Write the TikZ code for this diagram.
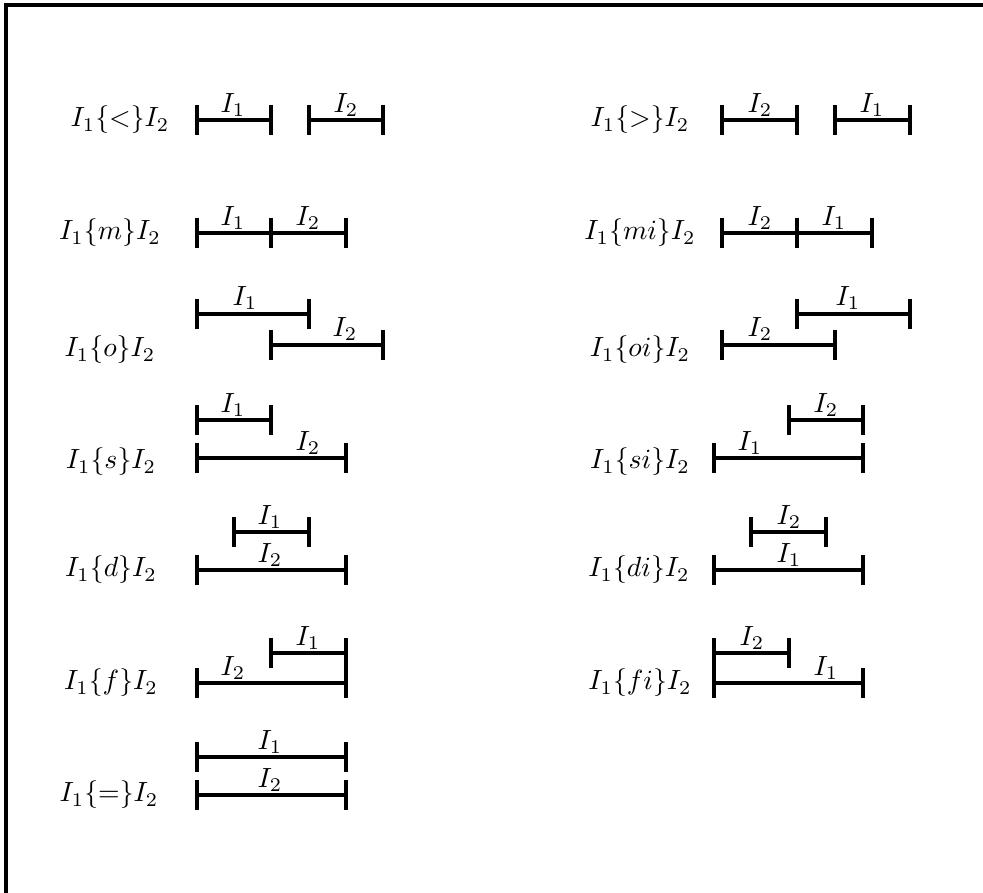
\documentclass[tikz,border=0pt]{standalone}
\usepackage{amsmath,amssymb}

\begin{document}
\begin{tikzpicture}[x=0.36pt, y=-0.36pt, every node/.style={inner sep=0pt},
	ival/.style={line width=1.1pt}, endbar/.style={line width=1.3pt}]
	\useasboundingbox (0,0) rectangle (983,893);
	\draw[line width=1.4pt] (6,893) -- (6,5) -- (983,5);
	% relation names
	\foreach \n/\x/\y/\r in {lt/120/120/<, m/110/233/m, o/110/350/o, s/111/462/s,
		d/111/570/d, f/111/683/f, eq/109/795/=, gt/640/120/>, mi/640/233/mi,
		oi/640/350/oi, si/640/462/si, di/639/570/di, fi/640/683/fi}
		\node (rel-\n) at (\x,\y) {$I_1\{\r\}I_2$};
	% intervals: from/to/line/label index/label position
	\foreach \a/\b/\y/\t/\lx/\ly [count=\i] in {
		197/271/120/1/233/105, 309/383/120/2/346/105,
		722/797/120/2/760/105, 835/910/120/1/872/105,
		197/271/233/1/233/218, 271/346/233/2/308/218,
		722/797/233/2/760/218, 797/872/233/1/834/218,
		197/309/314/1/245/298, 271/383/345/2/345/329,
		797/910/314/1/848/298, 722/835/345/2/760/329,
		197/271/420/1/233/405, 197/346/458/2/308/443,
		789/863/420/2/826/405, 714/863/458/1/750/443,
		234/309/532/1/270/517, 197/346/570/2/270/555,
		751/826/532/2/789/517, 714/863/570/1/789/555,
		271/346/653/1/308/638, 197/346/683/2/233/668,
		714/789/653/2/752/638, 714/863/683/1/826/668,
		197/346/757/1/270/742, 197/346/795/2/270/780} {
		\draw[ival] (\a,\y) -- (\b,\y);
		\draw[endbar] (\a,\y-15) -- (\a,\y+15) (\b,\y-15) -- (\b,\y+15);
		\node (lab-\i) at (\lx,\ly) {$I_\t$};
	}
\end{tikzpicture}
\end{document}
